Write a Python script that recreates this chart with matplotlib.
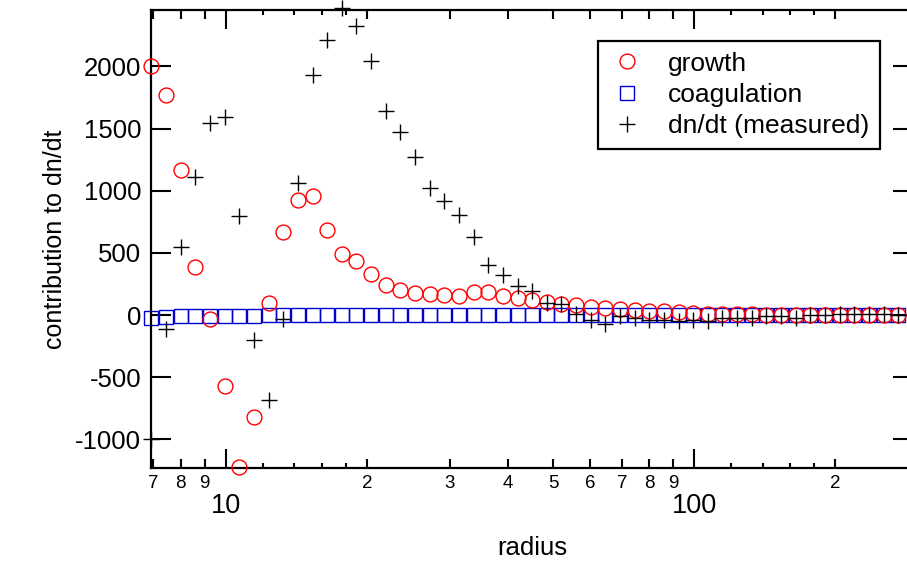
import matplotlib
matplotlib.use("Agg")
import matplotlib.pyplot as plt

plt.rcParams['font.family'] = ['Liberation Sans', 'DejaVu Sans']

# radius bins (log spaced)
radius = [6.93, 7.45, 8.00, 8.60, 9.24, 9.93, 10.68, 11.47, 12.33, 13.25,
          14.24, 15.30, 16.44, 17.67, 18.99, 20.40, 21.93, 23.56, 25.32, 27.21,
          29.24, 31.43, 33.77, 36.29, 39.00, 41.91, 45.04, 48.40, 52.01, 55.89,
          60.06, 64.55, 69.36, 74.54, 80.10, 86.08, 92.51, 99.40, 106.8, 114.8,
          123.4, 132.6, 142.5, 153.1, 164.5, 176.8, 190.0, 204.2, 219.4, 235.8,
          253.4, 272.3]

growth = [2000, 1771, 1168, 386, -30, -574, -1225, -823, 96, 672,
          927, 959, 686, 493, 439, 332, 244, 198, 177, 169,
          163, 155, 182, 182, 150, 137, 123, 102, 91, 83,
          69, 56, 48, 37, 29, 29, 21, 16, 10, 8,
          6, 5, 4, 4, 3, 3, 2, 2, 2, 1,
          1, 1]

coagulation = [-24, -16, -11, -8, -6, -5, -4, -4, -3, -3,
               -3, -3, -3, -3, -3, -3, -3, -3, -3, -3,
               -3, -3, -3, -3, -3, -3, -3, -3, -3, -3,
               -3, -3, -3, -3, -3, -3, -3, -3, -3, -3,
               -3, -3, -3, -3, -3, -3, -3, -3, -3, -3,
               -3, -3]

measured = [-1000, -113, 547, 1114, 1548, 1596, 798, -203, -681, -32,
            1061, 1929, 2213, 2468, 2325, 2044, 1645, 1476, 1275, 1026,
            919, 806, 627, 404, 324, 230, 190, 96, 91, 10,
            -38, -70, -11, -24, -38, -38, -51, -43, -51, -24,
            -24, -24, -11, -11, -24, 0, 0, 5, 5, 5,
            5, 0]

x_major = [10, 100]
x_minor_labeled = [7, 8, 9, 20, 30, 40, 50, 60, 70, 80, 90, 200]
x_minor_small = [12, 14, 16, 18, 120, 140, 160, 180]
y_ticks = [-1000, -500, 0, 500, 1000, 1500, 2000]

fig = plt.figure(figsize=(9.07, 5.63), dpi=100)
ax = fig.add_axes([151 / 907, 1 - 468 / 563, (913 - 151) / 907, (468 - 10) / 563])

ax.plot(radius, growth, 'o', ms=10.7, mfc='none', mec='red', mew=1.0,
        label='growth', clip_on=False, zorder=3)
ax.plot(radius, coagulation, 's', ms=10.3, mfc='none', mec='#0000d0', mew=1.0,
        label='coagulation', clip_on=False, zorder=2)
ax.plot(radius, measured, '+', ms=11, mec='black', mew=1.0,
        label='dn/dt (measured)', clip_on=False, zorder=4)

ax.set_xscale('log')
ax.set_xlim(6.915, 292.9)
ax.set_ylim(-1230, 2454)

ax.set_xticks(x_major)
ax.set_xticklabels([str(v) for v in x_major])
minor_ticks = x_minor_labeled + x_minor_small
minor_labels = [str(v)[0] for v in x_minor_labeled] + [''] * len(x_minor_small)
ax.set_xticks(minor_ticks, minor=True)
ax.set_xticklabels(minor_labels, minor=True)
ax.set_yticks(y_ticks)
ax.set_yticklabels([str(v) for v in y_ticks])

ax.tick_params(axis='both', which='both', direction='in', top=True, right=True, width=1.5)
ax.tick_params(axis='x', which='major', length=13.7, pad=18, labelsize=19.5)
ax.tick_params(axis='x', which='minor', length=6.8, pad=5, labelsize=13.5)
ax.tick_params(axis='y', which='major', length=14.4, pad=7, labelsize=18.5)

# shorter unlabeled minor ticks
for t in ax.xaxis.get_minor_ticks():
    if t.get_loc() in x_minor_small:
        t.tick1line.set_markersize(3.6)
        t.tick2line.set_markersize(3.6)

for s in ax.spines.values():
    s.set_linewidth(1.6)

ax.set_xlabel('radius', fontsize=18.5, labelpad=12)
ax.set_ylabel('contribution to dn/dt', fontsize=18, labelpad=6)

leg = ax.legend(loc='upper right', bbox_to_anchor=((880 - 151) / 762, (468 - 41) / 458),
                borderaxespad=0, fontsize=19, frameon=True, fancybox=False,
                edgecolor='black', framealpha=1, handlelength=1.4,
                handletextpad=0.85, labelspacing=0.28, borderpad=0.4)
leg.get_frame().set_linewidth(1.6)

fig.savefig('out.png', dpi=100)
